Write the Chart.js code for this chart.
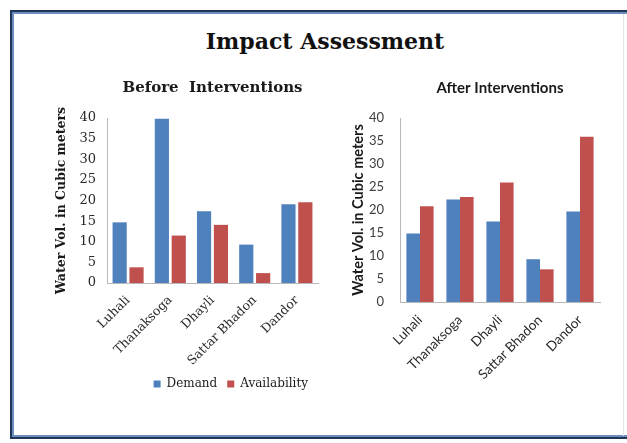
<!DOCTYPE html>
<html>
<head>
<meta charset="utf-8">
<script src="https://cdn.jsdelivr.net/npm/chart.js@4"></script>
<style>
  html, body { margin: 0; padding: 0; background: #fff; }
  #page { position: relative; width: 627px; height: 443px; overflow: hidden; background: #fff; }
  #frame { position: absolute; left: 10px; top: 10px; width: 640px; height: 425px;
           border: 2px solid #1f3656; border-right: none; box-shadow: inset 2px 2px 0 #6d8fbf, inset 0 -2px 0 #6d8fbf; }
  #rline { position: absolute; left: 623px; top: 14px; width: 1px; height: 422px; background: #e4e4e4; }
  #main { position: absolute; left: 0; width: 650px; top: 28px; text-align: center;
          font-family: "DejaVu Serif", serif; font-weight: bold; font-size: 22px; color: #111; }
  .c { position: absolute; }
</style>
</head>
<body>
<div id="page">
  <div id="frame"></div>
  <div id="rline"></div>
  <div id="main">Impact Assessment</div>
  <div class="c" style="left:14px; top:66px; width:316px; height:334px;"><canvas id="before" width="316" height="334"></canvas></div>
  <div class="c" style="left:338px; top:66px; width:282px; height:334px;"><canvas id="after" width="282" height="334"></canvas></div>
</div>
<script>
const categories = ['Luhali', 'Thanaksoga', 'Dhayli', 'Sattar Bhadon', 'Dandor'];
const seriesNames = ['Demand', 'Availability'];
const beforeDemand = [14.7, 39.8, 17.4, 9.3, 19.1];
const beforeAvailability = [3.8, 11.5, 14.1, 2.4, 19.6];
const afterDemand = [14.9, 22.3, 17.5, 9.3, 19.7];
const afterAvailability = [20.8, 22.8, 26.0, 7.1, 35.9];
const yMin = 0, yMax = 40, yStep = 5;
const yTitle = 'Water Vol. in Cubic meters';

const BLUE = '#4f81bd', RED = '#c0504d';

function makeChart(id, cfg) {
  return new Chart(document.getElementById(id), {
    type: 'bar',
    data: {
      labels: categories,
      datasets: [
        { label: seriesNames[0], data: cfg.demand, backgroundColor: BLUE,
          categoryPercentage: cfg.cp, barPercentage: cfg.bp },
        { label: seriesNames[1], data: cfg.avail, backgroundColor: RED,
          categoryPercentage: cfg.cp, barPercentage: cfg.bp }
      ]
    },
    options: {
      responsive: false,
      animation: false,
      layout: { padding: { left: 0, right: cfg.padRight, top: 0, bottom: 0 } },
      plugins: {
        title: { display: true, text: cfg.title, fullSize: false, color: '#1a1a1a',
                 font: { family: cfg.font, size: cfg.titleSize, weight: 'bold' },
                 padding: { top: cfg.titleTop, bottom: cfg.titleBottom } },
        legend: cfg.legend ? {
          display: true, position: 'bottom', align: 'end', fullSize: false,
          labels: { boxWidth: 7, boxHeight: 7, color: '#1a1a1a', padding: 10,
                    font: { family: cfg.font, size: 12 } }
        } : { display: false },
        tooltip: { enabled: false }
      },
      scales: {
        x: {
          grid: { display: false, drawTicks: false },
          border: { color: '#b8b8b8', width: 1 },
          ticks: { minRotation: 45, maxRotation: 45, color: '#2a2a2a', padding: cfg.xPad,
                   font: { family: cfg.font, size: cfg.xSize } },
          afterFit: s => { s.height = cfg.xHeight; }
        },
        y: {
          min: yMin, max: yMax,
          grid: { display: false, drawTicks: false },
          border: { color: '#b8b8b8', width: 1 },
          ticks: { stepSize: yStep, color: cfg.tickColor, padding: cfg.tickPad,
                   font: { family: cfg.font, size: cfg.ySize, weight: cfg.yWeight } },
          title: { display: true, text: yTitle, color: '#1a1a1a',
                   font: { family: cfg.font, size: cfg.yTitleSize, weight: 'bold' },
                   padding: { top: cfg.yTitlePad, bottom: 0 } },
          afterFit: s => { s.width = cfg.yWidth; }
        }
      }
    }
  });
}

makeChart('before', {
  demand: beforeDemand, avail: beforeAvailability,
  title: 'Before  Interventions', font: '"DejaVu Serif", serif',
  titleSize: 15, titleTop: 13, titleBottom: 21,
  cp: 0.8, bp: 0.84, padRight: 12, legend: true,
  xSize: 12.5, xPad: 10, xHeight: 85, ySize: 13, yWeight: 'normal', tickColor: '#2a2a2a', tickPad: 11,
  yTitleSize: 12.5, yTitlePad: 40, yWidth: 93
});

makeChart('after', {
  demand: afterDemand, avail: afterAvailability,
  title: 'After Interventions', font: 'Lato, "Open Sans", sans-serif',
  titleSize: 15, titleTop: 13, titleBottom: 21,
  cp: 0.68, bp: 1.0, padRight: 20, legend: false,
  xSize: 13.5, xPad: 10, xHeight: 98, ySize: 13, yWeight: 'normal', tickColor: '#404040', tickPad: 16,
  yTitleSize: 14.5, yTitlePad: 12, yWidth: 62
});
</script>
</body>
</html>
